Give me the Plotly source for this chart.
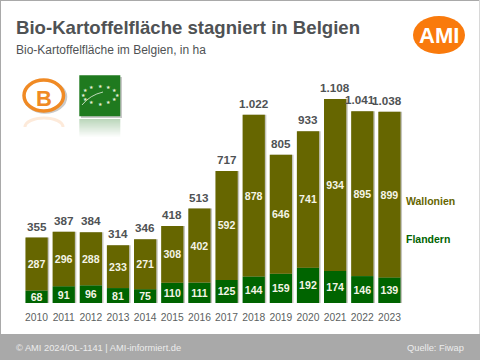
import math
import plotly.graph_objects as go

years = ["2010","2011","2012","2013","2014","2015","2016","2017","2018","2019","2020","2021","2022","2023"]
flandern = [68,91,96,81,75,110,111,125,144,159,192,174,146,139]
wallonien = [287,296,288,233,271,308,402,592,878,646,741,934,895,899]
totals = [355,387,384,314,346,418,513,717,1022,805,933,1108,1041,1038]
total_labels = ["355","387","384","314","346","418","513","717","1.022","805","933","1.108","1.041","1.038"]
title = "Bio-Kartoffelfläche stagniert in Belgien"
subtitle = "Bio-Kartoffelfläche im Belgien, in ha"
footer_left = "© AMI 2024/OL-1141 | AMI-informiert.de"
footer_right = "Quelle: Fiwap"

L, R, T, B = 23, 77, 82, 57
PW, PH = 480 - L - R, 360 - T - B
FONT = "Liberation Sans, Arial, sans-serif"
GREY = "#4f5254"
OLIVE = "#666600"
GREEN = "#006400"

def px(x): return (x - L) / PW
def py(y): return (360 - B - y) / PH

fig = go.Figure()
fig.add_bar(x=years, y=totals, offset=-0.385, width=0.85, marker=dict(color="#c4c4bc", line_width=0),
            hoverinfo="skip", showlegend=False)
fig.add_bar(x=years, y=flandern, name="Flandern", width=0.82, marker=dict(color=GREEN, line_width=0),
            text=[str(v) for v in flandern], textposition="inside", insidetextanchor="middle", textangle=0,
            constraintext="none", textfont=dict(family=FONT, size=10.6, color="#f4f4e6", weight="bold"))
fig.add_bar(x=years, y=wallonien, base=flandern, name="Wallonien", width=0.82, marker=dict(color=OLIVE, line_width=0),
            text=[str(v) for v in wallonien], textposition="inside", insidetextanchor="middle", textangle=0,
            constraintext="none", textfont=dict(family=FONT, size=10.6, color="#f4f4e6", weight="bold"))

shapes = []
def rect(x0, y0, x1, y1, **kw):
    shapes.append(dict(type="rect", xref="paper", yref="paper", x0=px(x0), x1=px(x1), y0=py(y0), y1=py(y1),
                       line=kw.pop("line", dict(width=0)), layer="below", **kw))
def oval(x0, y0, x1, y1, **kw):
    shapes.append(dict(type="circle", xref="paper", yref="paper", x0=px(x0), x1=px(x1), y0=py(y0), y1=py(y1),
                       line=kw.pop("line", dict(width=0)), layer="below", **kw))

# footer and frame
rect(0, 334, 480, 360, fillcolor="#a9a9a9")
rect(0, 0, 480, 1, fillcolor="#a9a9a9")
rect(0, 0, 1, 334, fillcolor="#a9a9a9")
rect(479, 0, 480, 334, fillcolor="#d8d8d8")
# AMI logo
oval(413, 16, 465, 54, fillcolor="#f97a0c")
# B logo with reflection
oval(25, 118, 63, 136, fillcolor="rgba(0,0,0,0)", line=dict(color="rgba(244,125,26,0.16)", width=3))
rect(22, 127, 68, 140, fillcolor="white")
oval(25, 82, 65.5, 112, fillcolor="rgba(0,0,0,0)", line=dict(color="#c9c9c9", width=3.5))
oval(24, 80, 63.5, 111, fillcolor="white", line=dict(color="#f08a24", width=3.5))
# EU organic logo with shadow and fading reflection
rect(81, 77, 122, 118, fillcolor="#c9c9c9")
rect(79.3, 75.3, 120.3, 116.3, fillcolor="#1f7a1f")
for i in range(18):
    rect(79.3, 119 + i, 120.3, 120 + i, fillcolor=f"rgba(31,122,31,{0.30 * (1 - i / 18):.3f})")
shapes.append(dict(type="path", xref="paper", yref="paper", layer="above", line=dict(color="#e6f0e0", width=0.8),
                   path=f"M {px(82)} {py(105)} Q {px(90)} {py(95)} {px(103)} {py(92)}"))

ann = []
def text(x, y, s, size, color, anchor="left", bold=False):
    ann.append(dict(xref="paper", yref="paper", x=px(x), y=py(y), text=f"<b>{s}</b>" if bold else s, showarrow=False,
                    xanchor=anchor, yanchor="middle", font=dict(family=FONT, size=size, color=color),
                    borderpad=0))
text(15, 27, title, 18.6, GREY, bold=True)
text(15, 49.5, subtitle, 12, GREY)
text(14.5, 347.5, footer_left, 9.3, "#ececec")
text(465, 347.5, footer_right, 9.3, "#ececec", anchor="right")
text(404.5, 200.5, "Wallonien", 10.5, OLIVE, bold=True)
text(405, 239, "Flandern", 10.5, GREEN, bold=True)
text(439, 35.5, "AMI", 22, "white", anchor="center", bold=True)
text(43.5, 98.5, "B", 22, "#f08a24", anchor="center", bold=True)
for i in range(12):
    a = 2 * math.pi * i / 12
    text(100 + 17 * math.sin(a), 95 - 9 * math.cos(a), "★", 4.5, "#e8f0d8", anchor="center")

# total labels sit on the bar tops, with the two last ones nudged left as in the reference
for i, (v, lab) in enumerate(zip(totals, total_labels)):
    ann.append(dict(x=i, y=v, xref="x", yref="y", text=f"<b>{lab}</b>", showarrow=False, yanchor="middle",
                    xanchor="center", yshift=11.5, xshift=-2 if i >= 12 else 0,
                    font=dict(family=FONT, size=11.7, color=GREY)))

fig.update_layout(
    width=480, height=360, autosize=False, barmode="overlay", showlegend=False, bargap=0.18,
    margin=dict(l=L, r=R, t=T, b=B, pad=0), paper_bgcolor="white", plot_bgcolor="rgba(0,0,0,0)",
    xaxis=dict(type="category", range=[-0.5, 13.5], showgrid=False, showline=False, ticks="outside", ticklen=5,
               tickcolor="rgba(0,0,0,0)", tickangle=0,
               tickfont=dict(family=FONT, size=10.3, color="#5c5f61"), zeroline=False),
    yaxis=dict(range=[0, 1200], visible=False, showgrid=False, zeroline=False),
    shapes=shapes, annotations=ann, font=dict(family=FONT),
)
fig.write_html("out.html", config={"displayModeBar": False},
               post_script="document.body.style.margin='0';document.documentElement.style.overflow='hidden';")
